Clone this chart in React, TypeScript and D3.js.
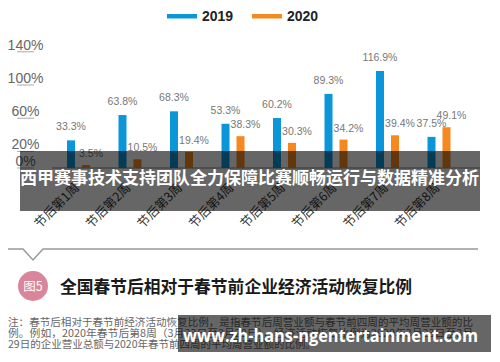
import React from "react";
import * as d3 from "d3";

const categories = ["节后第1周", "节后第2周", "节后第3周", "节后第4周", "节后第5周", "节后第6周", "节后第7周", "节后第8周"];
const values2019 = [33.3, 63.8, 68.3, 53.3, 60.2, 89.3, 116.9, 37.5];
const values2020 = [3.5, 10.5, 19.4, 38.3, 30.3, 34.2, 39.4, 49.1];
const yTicks = [0, 20, 60, 100, 140];
const seriesNames = ["2019", "2020"];
const colors = ["#0b96d9", "#f5891f"];
const bannerText = "西甲赛事技术支持团队全力保障比赛顺畅运行与数据精准分析";
const figTag = "图5";
const figTitle = "全国春节后相对于春节前企业经济活动恢复比例";
const noteLines = [
  "注：春节后相对于春节前经济活动恢复比例，是指春节后周营业额与春节前四周的平均周营业额的比",
  "例。例如，2020年春节后第8周（3月23日至3月29日），经济活动恢复比例为2020年3月23日至3月",
  "29日的企业营业总额与2020年春节前四周的平均周营业额的比例。",
];
const urlText = "www.zh-hans-ngentertainment.com";

export default function App() {
  const W = 500, H = 362;
  const x = d3.scaleBand<string>().domain(categories).range([52.75, 464.75]);
  const y = d3.scaleLinear().domain([0, 140]).range([168, 51.8]);
  const bw = 8;
  const font = "'Liberation Sans', Arial, sans-serif";
  const cjk = "'Noto Sans CJK SC', sans-serif";
  return (
    <svg width={W} height={H} style={{ position: "absolute", left: 0, top: 0, background: "#fff" }} fontFamily={font}>
      <rect width={W} height={H} fill="#fff" />
      {/* legend */}
      {seriesNames.map((s, i) => (
        <g key={s} transform={`translate(${i === 0 ? 167 : 252},0)`}>
          <rect x={0} y={14} width={30} height={4.5} fill={colors[i]} />
          <text x={35} y={21} fontSize={14} fontWeight="bold" fill="#222">{s}</text>
        </g>
      ))}
      {/* y axis ticks */}
      {yTicks.map((t) => (
        <g key={t}>
          <line x1={17} x2={34} y1={y(t)} y2={y(t)} stroke="#aaa" strokeWidth={1} />
          <text x={25.5} y={y(t) - 2} textAnchor="middle" fontSize={14} fill="#666">{t}%</text>
        </g>
      ))}
      {/* baseline */}
      <line x1={52} x2={480} y1={168} y2={168} stroke="#888" strokeWidth={1} />
      {/* bars */}
      {categories.map((c, i) => {
        const cx = (x(c) as number) + x.bandwidth() / 2;
        return (
          <g key={c}>
            <rect x={cx - 11.5} y={y(values2019[i])} width={bw} height={168 - y(values2019[i])} fill={colors[0]} />
            <rect x={cx + 3.5} y={y(values2020[i])} width={bw} height={168 - y(values2020[i])} fill={colors[1]} />
            <text x={cx - 7.5} y={y(values2019[i]) - 10} textAnchor="middle" fontSize={10.5} fill="#777">{values2019[i].toFixed(1)}%</text>
            <text x={cx + 12.5} y={y(values2020[i]) - 8} textAnchor="middle" fontSize={10.5} fill="#777">{values2020[i].toFixed(1)}%</text>
            <text transform={`translate(${cx - 1},${186}) rotate(-45)`} textAnchor="end" fontSize={12.5} fill="#333" fontFamily={cjk} dominantBaseline="middle">{c}</text>
          </g>
        );
      })}
      {/* banner overlay */}
      <rect x={20} y={151} width={460} height={60} fill="rgba(0,0,0,0.6)" />
      <text x={20} y={184} fontSize={17} fontWeight="bold" fill="#fff" fontFamily={cjk} textLength={459} lengthAdjust="spacingAndGlyphs">{bannerText}</text>
      {/* divider with notch */}
      <path d="M8,249 L23,249 L33,260 L43,249 L478,249" fill="none" stroke="#999" strokeWidth={1.5} />
      {/* figure tag */}
      <circle cx={33} cy={286} r={15} fill="#d9869c" />
      <text x={33} y={290.5} textAnchor="middle" fontSize={12.5} fill="#fff" fontFamily={cjk}>{figTag}</text>
      <text x={60} y={293} fontSize={17} fontWeight="bold" fill="#1a1a1a" fontFamily={cjk} textLength={352} lengthAdjust="spacingAndGlyphs">{figTitle}</text>
      {/* notes */}
      {noteLines.map((l, i) => (
        <text key={i} x={8} y={326 + i * 11} fontSize={10.5} fill="#666" fontFamily={cjk} {...(i < 2 ? { textLength: 465, lengthAdjust: "spacingAndGlyphs" } : {})}>{l}</text>
      ))}
      {/* url overlay */}
      <rect x={178} y={315} width={313} height={37} fill="rgba(0,0,0,0.6)" />
      <text x={183} y={342} fontSize={17} fontWeight="bold" fill="#fff" fontFamily="'Open Sans', 'Noto Sans', sans-serif" textLength={295} lengthAdjust="spacingAndGlyphs">{urlText}</text>
    </svg>
  );
}
